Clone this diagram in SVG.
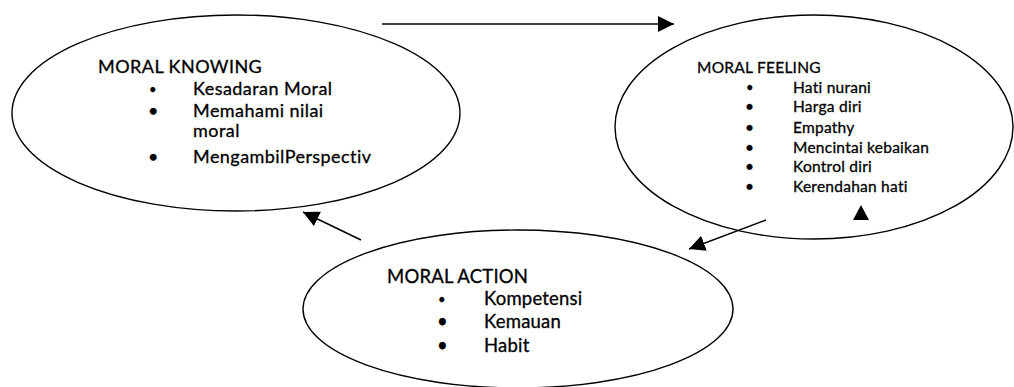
<svg xmlns="http://www.w3.org/2000/svg" width="1014" height="387" viewBox="0 0 1014 387">
<style>
.node ellipse{fill:#fff;stroke:#000;stroke-width:1.4}
text{font-family:"Lato","Liberation Sans",sans-serif;fill:#000;stroke:#000;stroke-width:0.3px}
.k{font-size:18px;letter-spacing:0.45px}
.f{font-size:15.5px;letter-spacing:0.25px}
.a{font-size:18.5px;letter-spacing:0.2px}
.s{font-size:13px}
.conn line{stroke:#000;stroke-width:1.5}
</style>
<defs>
<marker id="ah" markerUnits="userSpaceOnUse" markerWidth="17" markerHeight="17" refX="16" refY="8" orient="auto" viewBox="0 0 17 17">
<path d="M0,0 L16,8 L0,16 Z" fill="#000"/>
</marker>
</defs>
<rect width="1014" height="387" fill="#fff"/>
<g id="moral-knowing" class="node">
<ellipse cx="236" cy="113" rx="224" ry="98"/>
<text class="k" x="98" y="73">MORAL KNOWING</text>
<text class="k s" x="149" y="94">•</text>
<text class="k" x="193" y="95">Kesadaran Moral</text>
<text class="k" x="148" y="117">•</text>
<text class="k" x="193" y="117">Memahami nilai</text>
<text class="k" x="193" y="137">moral</text>
<text class="k" x="148" y="163">•</text>
<text class="k" x="193" y="163">MengambilPerspectiv</text>
</g>
<g id="moral-feeling" class="node">
<ellipse cx="814" cy="127" rx="199" ry="112"/>
<text class="f" x="697" y="73">MORAL FEELING</text>
<text class="f s" x="746" y="92">•</text>
<text class="f" x="793" y="93">Hati nurani</text>
<text class="f" x="745" y="112">•</text>
<text class="f" x="793" y="112">Harga diri</text>
<text class="f" x="745" y="133">•</text>
<text class="f" x="793" y="133">Empathy</text>
<text class="f" x="745" y="153">•</text>
<text class="f" x="793" y="153">Mencintai kebaikan</text>
<text class="f" x="745" y="172">•</text>
<text class="f" x="793" y="172">Kontrol diri</text>
<text class="f" x="745" y="192">•</text>
<text class="f" x="793" y="192">Kerendahan hati</text>
</g>
<g id="moral-action" class="node">
<ellipse cx="518" cy="309" rx="215" ry="79"/>
<text class="a" x="387" y="283">MORAL ACTION</text>
<text class="a s" x="438" y="304">•</text>
<text class="a" x="484" y="305">Kompetensi</text>
<text class="a" x="437" y="328">•</text>
<text class="a" x="484" y="328">Kemauan</text>
<text class="a" x="437" y="352">•</text>
<text class="a" x="484" y="352">Habit</text>
</g>
<g id="connectors" class="conn">
<line x1="382" y1="24" x2="674" y2="24" marker-end="url(#ah)"/>
<line x1="766" y1="220" x2="689" y2="249" marker-end="url(#ah)"/>
<line x1="361" y1="240" x2="303" y2="212" marker-end="url(#ah)"/>
<path d="M861,205 L853,220 L869,220 Z" fill="#000"/>
</g>
</svg>
